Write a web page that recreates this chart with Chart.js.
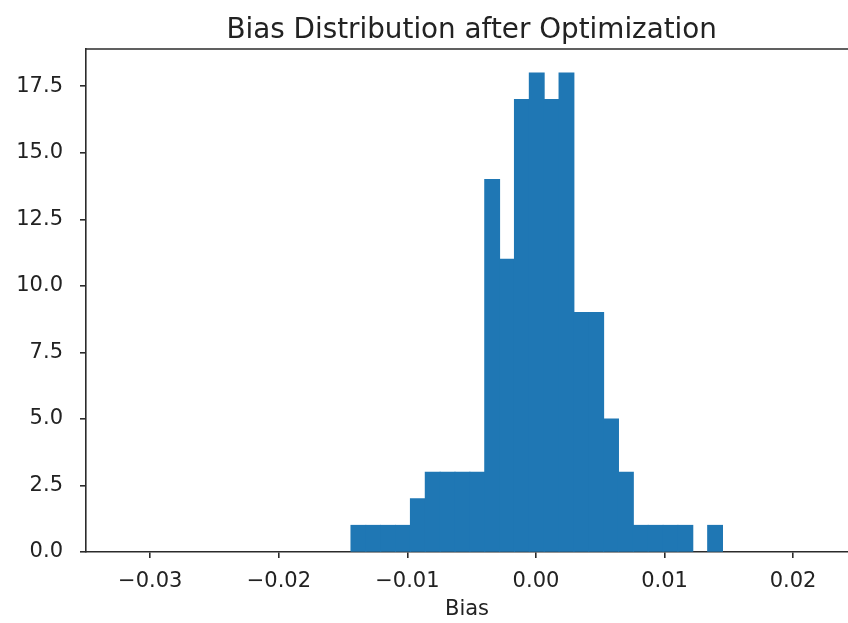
<!DOCTYPE html>
<html>
<head>
<meta charset="utf-8">
<script src="https://cdn.jsdelivr.net/npm/chart.js@4/dist/chart.umd.min.js"></script>
<style>
    html, body { margin: 0; padding: 0; background: #ffffff; }
</style>
</head>
<body>
<canvas id="graficoBias" width="848" height="623"></canvas>
<script>
// histogram bins (edges) and counts
const binEdges = [
    -0.01439, -0.013234, -0.012078, -0.010922, -0.009766, -0.00861,
    -0.007454, -0.006298, -0.005142, -0.003986, -0.00283, -0.001674,
    -0.000518, 0.000638, 0.001794, 0.00295, 0.004106, 0.005262,
    0.006418, 0.007574, 0.00873, 0.009886, 0.011042, 0.012198,
    0.013354, 0.01451
];
const counts = [1, 1, 1, 1, 2, 3, 3, 3, 3, 14, 11, 17, 18, 17, 18, 9, 9, 5, 3, 1, 1, 1, 1, 0, 1];
const xTicks = [-0.03, -0.02, -0.01, 0, 0.01, 0.02];
const yTicks = [0, 2.5, 5, 7.5, 10, 12.5, 15, 17.5];

const titulo = "Bias Distribution after Optimization";
const fonte = "'DejaVu Sans', sans-serif";
const corTexto = "#222222";
const corEixo = "#2b2b2b";

// empty bins draw nothing
const pontos = counts.map((c, i) => ({
    x: (binEdges[i] + binEdges[i + 1]) / 2,
    y: c === 0 ? null : c
}));

// top spine + title centred over the axes (axes run to x = 0.025, just past the canvas)
const molduraPlugin = {
    id: "moldura",
    afterDraw(chart) {
        const { ctx, chartArea } = chart;
        const meio = chart.scales.x.getPixelForValue(-0.005);
        ctx.save();
        ctx.strokeStyle = corEixo;
        ctx.lineWidth = 1.6;
        ctx.beginPath();
        ctx.moveTo(chartArea.left, chartArea.top);
        ctx.lineTo(chartArea.right, chartArea.top);
        ctx.stroke();
        ctx.fillStyle = corTexto;
        ctx.font = "27.8px " + fonte;
        ctx.textAlign = "center";
        ctx.textBaseline = "alphabetic";
        ctx.fillText(titulo, meio, 38);
        ctx.restore();
    }
};

new Chart(document.getElementById("graficoBias"), {
    type: "bar",
    data: {
        datasets: [{
            data: pontos,
            backgroundColor: "#1f77b4",
            borderWidth: 0,
            inflateAmount: 0.5,
            barPercentage: 1,
            categoryPercentage: 1
        }]
    },
    plugins: [molduraPlugin],
    options: {
        responsive: false,
        devicePixelRatio: 1,
        animation: false,
        layout: {
            padding: { top: 49, right: 0, left: 0, bottom: 0 }
        },
        plugins: {
            legend: { display: false },
            tooltip: { enabled: false },
            title: { display: false }
        },
        scales: {
            x: {
                type: "linear",
                min: -0.035,
                max: 0.02427,
                offset: false,
                afterBuildTicks: (s) => { s.ticks = xTicks.map(v => ({ value: v })); },
                afterFit: (s) => { s.height = 71; },
                ticks: {
                    color: corTexto,
                    padding: 11,
                    maxRotation: 0,
                    autoSkip: false,
                    font: { family: fonte, size: 21 },
                    callback: (v) => v.toFixed(2).replace("-", "\u2212")
                },
                grid: {
                    offset: false,
                    drawOnChartArea: false,
                    drawTicks: true,
                    tickLength: 6,
                    color: corEixo,
                    lineWidth: 1.6
                },
                border: { display: true, color: corEixo, width: 1.6 },
                title: {
                    display: true,
                    text: "Bias",
                    color: corTexto,
                    font: { family: fonte, size: 21 },
                    padding: { top: 0, bottom: 1 }
                }
            },
            y: {
                min: 0,
                max: 18.9,
                afterBuildTicks: (s) => { s.ticks = yTicks.map(v => ({ value: v })); },
                afterFit: (s) => { s.width = 86; },
                ticks: {
                    color: corTexto,
                    padding: 17,
                    font: { family: fonte, size: 21 },
                    callback: (v) => v.toFixed(1)
                },
                grid: {
                    drawOnChartArea: false,
                    drawTicks: true,
                    tickLength: 6,
                    color: corEixo,
                    lineWidth: 1.6
                },
                border: { display: true, color: corEixo, width: 1.6 }
            }
        }
    }
});
</script>
</body>
</html>
